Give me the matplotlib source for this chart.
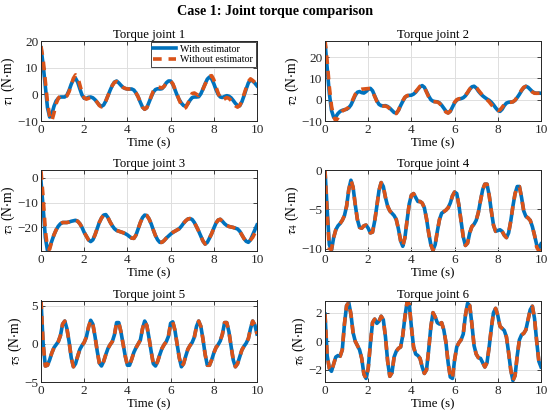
import numpy as np
import matplotlib
matplotlib.use('Agg')
import matplotlib.pyplot as plt

plt.rcParams['font.family'] = ['Liberation Serif', 'DejaVu Serif']
plt.rcParams['mathtext.fontset'] = 'stix'

# time axis (s), read every 0.1 s
t = np.round(np.arange(0, 10.01, 0.1), 1)

tau1_with = [17.5, 11, 3, -5, -8.5, -7.5, -4.5, -2.5, -1.5, -1,
             -1, -1, -0.3, 1.5, 3.8, 5.5, 6, 4.5, 2, -0.3,
             -1.5, -1.5, -1.1, -1, -1.3, -2, -3, -4, -4.5, -4,
             -2.5, -0.5, 1.5, 3.3, 4.6, 5, 4.3, 3.4, 2.6, 2.2,
             2, 2, 2, 1.6, 0.5, -1, -3, -4.8, -5.6, -5,
             -3, -1, 0.8, 1.8, 2.1, 2, 2.1, 3, 4.3, 5,
             5, 3.8, 1.8, -0.3, -2, -3.3, -4.2, -4.5, -3.5, -2.2,
             -1.2, -1, -1, -0.9, 0.2, 2, 4, 5.7, 6.5, 5.8,
             4, 1.8, 0, -1, -1.2, -0.8, -0.5, -0.7, -1.3, -2.3,
             -3.4, -4.2, -4.3, -2.8, -0.5, 2, 4.3, 5.4, 5, 4.2,
             3.2]
tau1_without = [18, 13, 5, -3, -8, -10, -7, -3.5, -1.5, -0.5,
                -0.8, -1, -0.6, 1, 3.5, 6, 7.3, 6.5, 3.5, 0.5,
                -1.3, -1.8, -1.5, -1.2, -1.4, -2, -3, -4.2, -4.7, -4,
                -2.5, -0.5, 1.5, 3.3, 4.5, 4.8, 4.3, 3.4, 2.6, 2.2,
                2, 2, 2, 1.6, 0.5, -1, -3, -4.8, -5.6, -5,
                -3, -0.8, 1.2, 2.3, 2.7, 2.6, 2.4, 3, 4.2, 4.9,
                5, 4, 2, 0, -2.2, -4, -5.3, -5, -3.5, -1.3,
                0.3, 0.5, 0, -0.5, 0.5, 2, 3.8, 5.5, 6.8, 7,
                5.5, 2.8, 0.5, -1.5, -2.2, -1.7, -1.2, -1.5, -2.3, -3.3,
                -4.3, -4.8, -4.2, -2.5, 0, 2.5, 4.8, 5.8, 5.2, 4.5,
                3.8]

tau2_with = [27, 15, 3, -5, -8.2, -8, -6.5, -5.5, -5, -4.7,
             -4.5, -3.8, -2.5, -0.3, 2, 3.5, 3.8, 3.3, 3.1, 3.8,
             4.8, 5.3, 4.2, 1.8, -0.5, -2.2, -2.8, -2.9, -2.8, -3.2,
             -4, -5, -6, -6.3, -5, -2.8, -0.8, 1, 1.8, 2,
             2.1, 2.6, 3.5, 4.8, 6, 6.6, 5.8, 3.8, 1.7, 0,
             -0.7, -0.9, -1, -1.5, -2.6, -4, -5.4, -6.2, -5.5, -3.5,
             -1.5, -0.2, 0.3, 0.5, 0.9, 1.8, 3.2, 4.8, 6, 6.3,
             5.5, 4, 2.8, 1.8, 1, 0.3, -0.3, -1.2, -2.4, -3.8,
             -5, -5.5, -4.5, -2.8, -1.6, -1.2, -1.1, -1, -0.3, 1,
             2.5, 4.2, 5.6, 6.3, 5.8, 4.8, 3.8, 3.2, 3, 3.1,
             3]
tau2_without = [28, 18, 6, -3, -8, -10, -8.5, -6.5, -5.3, -4.8,
                -4.3, -3.5, -2, 0.3, 2.5, 3.8, 4.6, 4.9, 5, 5.1,
                5.2, 5.2, 4, 1.5, -0.8, -2.4, -2.9, -3, -3, -3.4,
                -4.3, -5.3, -6.3, -6.5, -5, -2.5, -0.5, 1.2, 1.9, 2.1,
                2.3, 2.8, 3.8, 5, 6.3, 6.8, 5.8, 3.5, 1.3, -0.3,
                -0.9, -1, -1.1, -1.7, -3, -4.6, -5.8, -6.3, -5.3, -3.2,
                -1.2, 0, 0.4, 0.6, 1, 2, 3.4, 5, 6, 6.4,
                5.8, 4.5, 3.2, 2, 1, 0, -1, -2.3, -3.5, -4.6,
                -5.1, -4.8, -3.6, -2.2, -1.5, -1.3, -1.2, -1, -0.2, 1.2,
                2.8, 4.5, 5.8, 6.2, 5.6, 4.6, 3.6, 3, 3, 3,
                3]

tau3_with = [-1.3, -12, -24, -29.3, -28, -25.5, -23, -21, -19.5, -18.5,
             -18, -18, -18, -17.8, -17.5, -17.3, -17.1, -17.5, -18.5, -20,
             -22, -23.5, -25, -25.7, -25, -23, -20.5, -18, -16.2, -15,
             -14.8, -16, -17.8, -19.3, -20.5, -21.2, -21.5, -21.8, -22.1, -22.5,
             -23, -23.7, -24.3, -24.4, -23, -20.5, -18, -16, -15, -15.2,
             -16.5, -18.5, -21, -23.3, -25, -26, -26, -25.3, -24.3, -23.5,
             -22.7, -22, -21.5, -21, -20.5, -19.5, -18.3, -17.3, -16.6, -16.4,
             -16.8, -18, -19.7, -21.5, -23.5, -25.5, -26.7, -26, -24.3, -22.5,
             -20.3, -18.3, -17, -16.7, -17.5, -18.5, -19.2, -19.6, -19.8, -20,
             -20.3, -20.6, -21.5, -23, -24.5, -25.6, -26, -25, -23, -21,
             -19]
tau3_without = list(tau3_with)
tau3_without[:5] = [2.7, -8, -21, -28.5, -28.8]
tau3_without[-3:] = [-24, -22.3, -20.5]

tau4_with = [0, -5, -9.5, -10.2, -8.6, -7.6, -7.1, -6.8, -6.4, -5.8,
             -4.6, -2.5, -1.3, -2.2, -4.4, -6.3, -7.3, -7.4, -7.1, -7,
             -7.4, -8, -7.9, -6.5, -4.6, -2.6, -1.6, -2.1, -3.5, -4.6,
             -5.2, -5.5, -5.8, -6.3, -7.5, -9, -9.7, -8.6, -6.4, -4.3,
             -3.2, -3, -3.5, -4, -4, -4.2, -4.8, -6.2, -8, -9.5,
             -10.2, -9.5, -7.8, -6.3, -5.5, -5.3, -5.1, -4.8, -4.2, -3.3,
             -2.8, -3, -4.5, -6.5, -8.5, -9.6, -9.3, -8, -7.2, -6.9,
             -6.4, -5.4, -3.9, -2.5, -1.8, -1.8, -3.2, -5.2, -7, -7.8,
             -7.7, -7.6, -7.8, -8.3, -8.6, -8, -6.5, -4.6, -3, -2.1,
             -2.1, -3.5, -5.2, -5.9, -6.1, -6.4, -7.2, -8.3, -9.5, -10,
             -9.4]
tau4_without = list(tau4_with)
tau4_without[:4] = [0, -5.5, -10, -10.1]
tau4_without[-3:] = [-9.8, -10.3, -10.2]

tau5_with = [5.7, 0, -2.9, -2.8, -2.1, -1.2, -0.5, -0.1, 0.3, 1.1,
             2.6, 3, 2, 0.3, -1.8, -3, -2.6, -1.6, -0.7, -0.2,
             0.2, 0.9, 2.2, 3.1, 2.6, 1, -0.9, -2.5, -2.9, -2.3,
             -1.4, -0.6, -0.1, 0.3, 1.2, 2.8, 2.8, 1.6, 0, -1.6,
             -2.8, -2.8, -2, -1.1, -0.5, 0, 0.5, 2, 3, 2.4,
             0.8, -1, -2.6, -2.9, -2.3, -1.4, -0.6, -0.1, 0.3, 1,
             2.7, 2.9, 1.8, 0, -1.8, -3, -2.6, -1.6, -0.7, -0.2,
             0.2, 0.9, 2.3, 3, 2.3, 0.6, -1.4, -2.8, -2.8, -2.1,
             -1.2, -0.5, -0.1, 0.4, 1.3, 2.8, 2.8, 1.6, -0.3, -2.1,
             -3, -2.6, -1.7, -0.8, -0.3, 0.1, 0.7, 2, 3, 2.5,
             1.3]
tau5_without = list(tau5_with)

tau6_with = [1.9, -1, -1.9, -2.1, -1.6, -1.1, -1, -1.05, -0.6, 1.2,
             2.5, 2.7, 1.9, 0.6, 0, -0.3, -0.6, -1.2, -2.3, -2.6,
             -1.9, -0.2, 1.3, 1.55, 1.25, 1.4, 1.75, 1.5, 0.3, -1.4,
             -2.45, -2.2, -1.1, -0.7, -0.5, -0.4, 0.4, 1.7, 2.75, 2.6,
             1, -0.4, -0.9, -1, -1.2, -1.8, -2.25, -2, -0.6, 1,
             2, 1.7, 1.3, 1.2, 1.3, 0.8, -0.1, -1.5, -2.5, -2.6,
             -1.3, -0.4, -0.1, 0.1, 0.5, 1.8, 2.65, 2.5, 1.2, -0.3,
             -0.9, -1.15, -1.2, -1.5, -1.8, -1.5, -0.4, 0.9, 2, 2.3,
             1.8, 1.05, 0.9, 0.75, 0.3, -0.8, -2, -2.75, -2.4, -1,
             0.1, 0.45, 0.55, 0.8, 1.5, 2.2, 2.45, 1.6, 0, -1.4,
             -1.8]
tau6_without = list(tau6_with)

series = [(tau1_with, tau1_without), (tau2_with, tau2_without),
          (tau3_with, tau3_without), (tau4_with, tau4_without),
          (tau5_with, tau5_without), (tau6_with, tau6_without)]

ylims = [(-10, 20), (-10, 27.5), (-29.5, 3.2), (-10.3, 0), (-5, 5.7), (-2.85, 2.85)]
yticks = [[-10, 0, 10, 20], [-10, 0, 10, 20], [-20, -10, 0], [-10, -5, 0], [-5, 0, 5], [-2, 0, 2]]

c_with, c_without = '#0072BD', '#D95319'

fig = plt.figure(figsize=(5.5, 4.15), dpi=100)

# axes boxes in pixels
lefts = [41, 325]
tops = [41, 170, 300.5]
bots = [121, 251, 382]
W, H = 550., 415.

for ii in range(6):
    row, col = ii // 2, ii % 2
    l, r = lefts[col], lefts[col] + 216
    top, bot = tops[row], bots[row]
    ax = fig.add_axes([l/W, 1 - bot/H, (r-l)/W, (bot-top)/H])

    yw, ywo = series[ii]
    ax.plot(t, yw, '-', lw=2.6, c=c_with, label='With estimator')
    ax.plot(t, ywo, '--', lw=2.6, c=c_without, dashes=(2.4, 1.9), label='Without estimator')

    ax.set_xlim([0, 10])
    ax.set_ylim(ylims[ii])
    ax.set_xticks(np.arange(0, 11, 2))
    ax.set_yticks(yticks[ii])
    ax.grid(color='0.87', lw=0.7)
    ax.set_axisbelow(True)
    ax.tick_params(direction='in', length=3, width=0.6, top=True, right=True,
                   labelsize=9.5, colors='0.15', pad=2)
    for s in ax.spines.values():
        s.set_color('0.15')
        s.set_linewidth(0.7)

    ax.set_title('Torque joint %i' % (ii+1), fontsize=9.2, pad=2)
    ax.set_xlabel('Time (s)', fontsize=9.3, labelpad=1)
    ax.set_ylabel(r'$\tau_%i$ (N$\cdot$m)' % (ii+1), fontsize=9.8, labelpad=0)

    if ii == 0:
        leg = ax.legend(loc='upper right', fontsize=7.2, handlelength=2.3, borderpad=0.25,
                        labelspacing=0.15, handletextpad=0.4, borderaxespad=0.15,
                        fancybox=False, framealpha=1)
        leg.get_frame().set_edgecolor('0.15')
        leg.get_frame().set_linewidth(0.6)

fig.text(0.5, 1 - 12/H, 'Case 1: Joint torque comparison', ha='center', va='center',
         fontsize=10.2, fontweight='bold')

plt.savefig('out.png', dpi=100)
